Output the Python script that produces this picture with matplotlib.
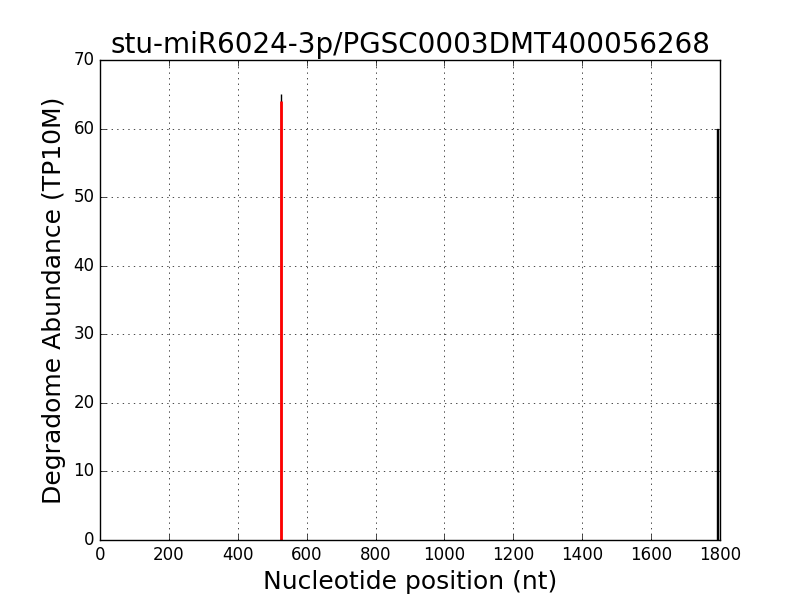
import matplotlib
matplotlib.use('Agg')
import matplotlib.pyplot as plt

# degradome reads (position, abundance)
positions = [525]
abundance = [65]
# predicted cleavage site
site_pos = [525]
site_val = [64]
# bar at the transcript end
end_pos = [1793]
end_val = [60]

plt.style.use('classic')
fig, ax = plt.subplots(figsize=(8, 6), dpi=100)
fig.patch.set_facecolor('white')

ax.vlines(positions, 0, abundance, colors='black', lw=1)
ax.vlines(site_pos, 0, site_val, colors='red', lw=2)
ax.bar(end_pos, end_val, width=5, color='#d0d0d0', edgecolor='black', lw=1)

ax.set_xlim(0, 1800)
ax.set_ylim(0, 70)
ax.grid(True)
ax.set_title('stu-miR6024-3p/PGSC0003DMT400056268', fontsize=20)
ax.set_xlabel('Nucleotide position (nt)', fontsize=18)
ax.set_ylabel('Degradome Abundance (TP10M)', fontsize=18)
ax.tick_params(labelsize=12)

plt.savefig('out.png')
